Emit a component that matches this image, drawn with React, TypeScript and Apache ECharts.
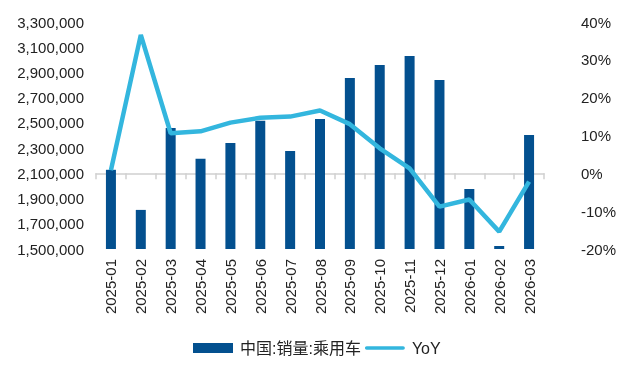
import React, { useEffect, useRef } from "react";
import * as echarts from "echarts";

const categories = ["2025-01","2025-02","2025-03","2025-04","2025-05","2025-06","2025-07","2025-08","2025-09","2025-10","2025-11","2025-12","2026-01","2026-02","2026-03"];
const salesValues = [2128000,1810000,2460000,2215000,2340000,2517000,2278000,2531000,2856000,2960000,3030000,2840000,1976000,1524000,2404000];
const yoyValues = [0.8,36.6,10.6,11.1,13.4,14.7,15.0,16.6,13.0,6.6,1.3,-8.8,-6.9,-15.4,-2.2];
const leftTicks = { min: 1500000, max: 3300000, interval: 200000 };
const rightTicks = { min: -20, max: 40, interval: 10 };

const FONT = "'Liberation Sans', Arial, 'Noto Sans CJK SC', sans-serif";

export default function App() {
  const ref = useRef<HTMLDivElement>(null);
  useEffect(() => {
    if (!ref.current) return;
    const chart = echarts.init(ref.current, null, { renderer: "svg" });
    chart.setOption({
      animation: false,
      textStyle: { fontFamily: FONT },
      grid: { left: 96, right: 90, top: 22, bottom: 130 },
      legend: {
        top: 340,
        left: 193,
        itemWidth: 40,
        itemHeight: 10,
        itemGap: 4,
        padding: 0,
        textStyle: { fontSize: 16, color: "#222", fontFamily: FONT, padding: [0, 0, 0, 2] },
        data: [
          { name: "中国:销量:乘用车", icon: "rect" },
          { name: "YoY", icon: "path://M2,0 L42,0 A2,2 0 0 1 42,4 L2,4 A2,2 0 0 1 2,0 Z" },
        ],
      },
      xAxis: {
        type: "category",
        data: categories,
        boundaryGap: true,
        axisLine: { show: true, lineStyle: { color: "#d0d0d0", width: 1.5 } },
        axisTick: { show: true, length: 6, alignWithLabel: false, lineStyle: { color: "#d0d0d0", width: 1.5 } },
        axisLabel: { rotate: 90, fontSize: 15, color: "#222", margin: 10, interval: 0, fontFamily: FONT },
      },
      yAxis: [
        {
          type: "value",
          min: leftTicks.min,
          max: leftTicks.max,
          interval: leftTicks.interval,
          splitLine: { show: false },
          axisLine: { show: false },
          axisTick: { show: false },
          axisLabel: {
            fontSize: 15,
            color: "#222",
            margin: 12,
            fontFamily: FONT,
            formatter: (v: number) => v.toLocaleString("en-US"),
          },
        },
        {
          type: "value",
          min: rightTicks.min,
          max: rightTicks.max,
          interval: rightTicks.interval,
          splitLine: { show: false },
          axisLine: { show: false },
          axisTick: { show: false },
          axisLabel: {
            fontSize: 15,
            color: "#222",
            margin: 37,
            fontFamily: FONT,
            formatter: (v: number) => v + "%",
          },
        },
      ],
      series: [
        {
          name: "中国:销量:乘用车",
          type: "bar",
          data: salesValues,
          barWidth: 10,
          itemStyle: { color: "#03508F" },
        },
        {
          name: "YoY",
          type: "line",
          yAxisIndex: 1,
          data: yoyValues,
          symbol: "none",
          lineStyle: { color: "#33B6DE", width: 4.5 },
          itemStyle: { color: "#33B6DE" },
        },
      ],
    });
    return () => chart.dispose();
  }, []);
  return <div ref={ref} style={{ position: "fixed", left: 0, top: 0, width: 634, height: 379 }} />;
}
